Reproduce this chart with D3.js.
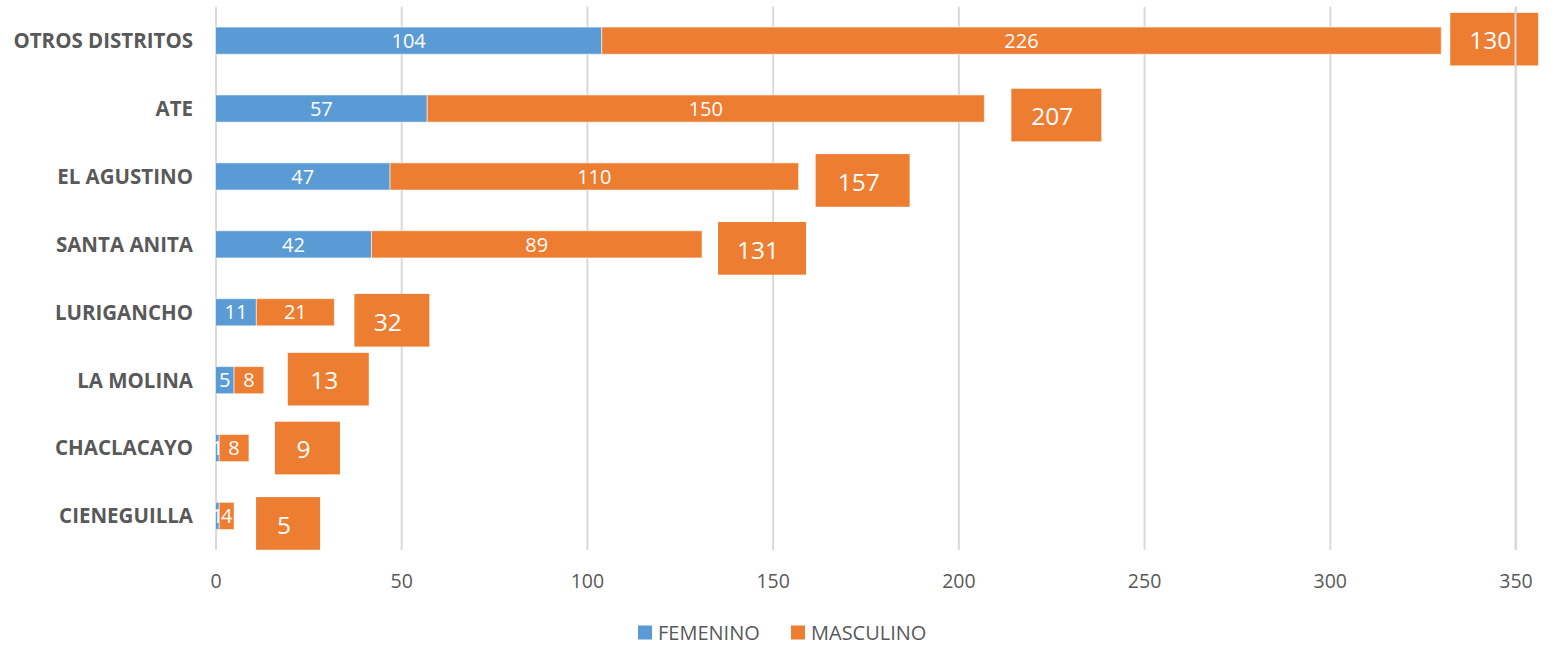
<!DOCTYPE html>
<html lang="es">
<head>
<meta charset="utf-8">
<script src="https://cdn.jsdelivr.net/npm/d3@7"></script>
<style>
  html, body { margin: 0; padding: 0; background: #ffffff; }
  svg { display: block; font-family: "Open Sans", "Noto Sans", sans-serif; }
</style>
</head>
<body>
<svg id="chart" width="1555" height="645"></svg>
<script>
// Distritos y casos por sexo
const categories = ["OTROS DISTRITOS", "ATE", "EL AGUSTINO", "SANTA ANITA", "LURIGANCHO", "LA MOLINA", "CHACLACAYO", "CIENEGUILLA"];
const femenino  = [104, 57, 47, 42, 11, 5, 1, 1];
const masculino = [226, 150, 110, 89, 21, 8, 8, 4];
const totalLabels = ["130", "207", "157", "131", "32", "13", "9", "5"];
const seriesNames = ["FEMENINO", "MASCULINO"];
const xTicks = [0, 50, 100, 150, 200, 250, 300, 350];

// Placement of the total label boxes next to each bar end (pixels)
const totalBoxLayout = [
  { dx: 9,  dy: -1.5, w: 88 },
  { dx: 27, dy: 6.5,  w: 90 },
  { dx: 17, dy: 4,    w: 94 },
  { dx: 16, dy: 4,    w: 88 },
  { dx: 20, dy: 8,    w: 75 },
  { dx: 24, dy: -1,   w: 81 },
  { dx: 26, dy: 0,    w: 65 },
  { dx: 22, dy: 7.5,  w: 64 }
];

const colors = { FEMENINO: "#5B9BD5", MASCULINO: "#ED7D31" };
const textGray = "#595959";
const gridGray = "#D9D9D9";

const svg = d3.select("#chart");

const plotTop = 6.7, plotBottom = 549.9;
const x = d3.scaleLinear().domain([0, 350]).range([215.5, 1515.5]);
const y = d3.scaleBand().domain(categories).range([plotTop, plotBottom])
  .paddingInner(0.6).paddingOuter(0.3);

// Vertical gridlines
const gridAxis = d3.axisBottom(x).tickValues(xTicks).tickSize(-(plotBottom - plotTop)).tickFormat("");
const grid = svg.append("g").attr("transform", `translate(0,${plotBottom})`).call(gridAxis);
grid.select(".domain").remove();
grid.selectAll(".tick line").attr("stroke", gridGray).attr("stroke-width", 2);

// Stacked bars
const rows = categories.map((c, i) => ({ cat: c, FEMENINO: femenino[i], MASCULINO: masculino[i] }));
const stacked = d3.stack().keys(seriesNames)(rows);

const layers = svg.append("g").selectAll("g").data(stacked).join("g")
  .attr("fill", d => colors[d.key]);

layers.selectAll("rect").data(d => d).join("rect")
  .attr("x", d => x(d[0]))
  .attr("y", d => y(d.data.cat))
  .attr("width", d => x(d[1]) - x(d[0]))
  .attr("height", y.bandwidth())
  .attr("stroke", "rgba(255,255,255,0.55)")
  .attr("stroke-width", 1);

// Segment value labels
layers.selectAll("text").data(d => d.map(v => ({ v, key: d.key }))).join("text")
  .attr("x", d => (x(d.v[0]) + x(d.v[1])) / 2)
  .attr("y", d => y(d.v.data.cat) + y.bandwidth() / 2)
  .attr("dy", "0.36em")
  .attr("text-anchor", "middle")
  .attr("fill", "#ffffff")
  .attr("font-size", 20)
  .text(d => d.v.data[d.key]);

// Total label boxes
const totals = svg.append("g");
categories.forEach((c, i) => {
  const lay = totalBoxLayout[i];
  const end = x(femenino[i] + masculino[i]);
  const cy = y(c) + y.bandwidth() / 2 + lay.dy;
  const h = 52.7;
  totals.append("rect")
    .attr("x", end + lay.dx)
    .attr("y", cy - h / 2)
    .attr("width", lay.w)
    .attr("height", h)
    .attr("fill", colors.MASCULINO);
  totals.append("text")
    .attr("x", end + lay.dx + lay.w / 2 - 4)
    .attr("y", cy + 1.5)
    .attr("dy", "0.36em")
    .attr("text-anchor", "middle")
    .attr("fill", "#ffffff")
    .attr("font-size", 24.5)
    .text(totalLabels[i]);
});

// Right-most gridline drawn over the overflowing label box
svg.append("line")
  .attr("x1", x(350)).attr("x2", x(350))
  .attr("y1", plotTop).attr("y2", plotBottom)
  .attr("stroke", gridGray).attr("stroke-width", 2);

// Category axis
const yAxis = d3.axisLeft(y).tickSize(0).tickPadding(0);
const yg = svg.append("g").attr("transform", "translate(193,0)").call(yAxis);
yg.select(".domain").remove();
yg.selectAll(".tick text")
  .attr("font-family", "'Open Sans', sans-serif")
  .attr("font-size", 20.5)
  .attr("font-weight", "bold")
  .attr("fill", textGray)
  .attr("x", 0)
  .attr("dy", "0.36em");

// Value axis
const xAxis = d3.axisBottom(x).tickValues(xTicks).tickSize(0).tickPadding(0);
const xg = svg.append("g").attr("transform", `translate(0,${plotBottom})`).call(xAxis);
xg.select(".domain").remove();
xg.selectAll(".tick text")
  .attr("font-family", "'Open Sans', sans-serif")
  .attr("font-size", 19.5)
  .attr("fill", textGray)
  .attr("y", 38)
  .attr("dy", "0");

// Legend
const legendItems = [
  { name: "FEMENINO", sx: 638 },
  { name: "MASCULINO", sx: 791 }
];
const legend = svg.append("g");
legendItems.forEach(item => {
  legend.append("rect")
    .attr("x", item.sx).attr("y", 625.5)
    .attr("width", 14).attr("height", 14)
    .attr("fill", colors[item.name]);
  legend.append("text")
    .attr("x", item.sx + 20).attr("y", 639.5)
    .attr("font-size", 20)
    .attr("fill", textGray)
    .text(item.name);
});
</script>
</body>
</html>
